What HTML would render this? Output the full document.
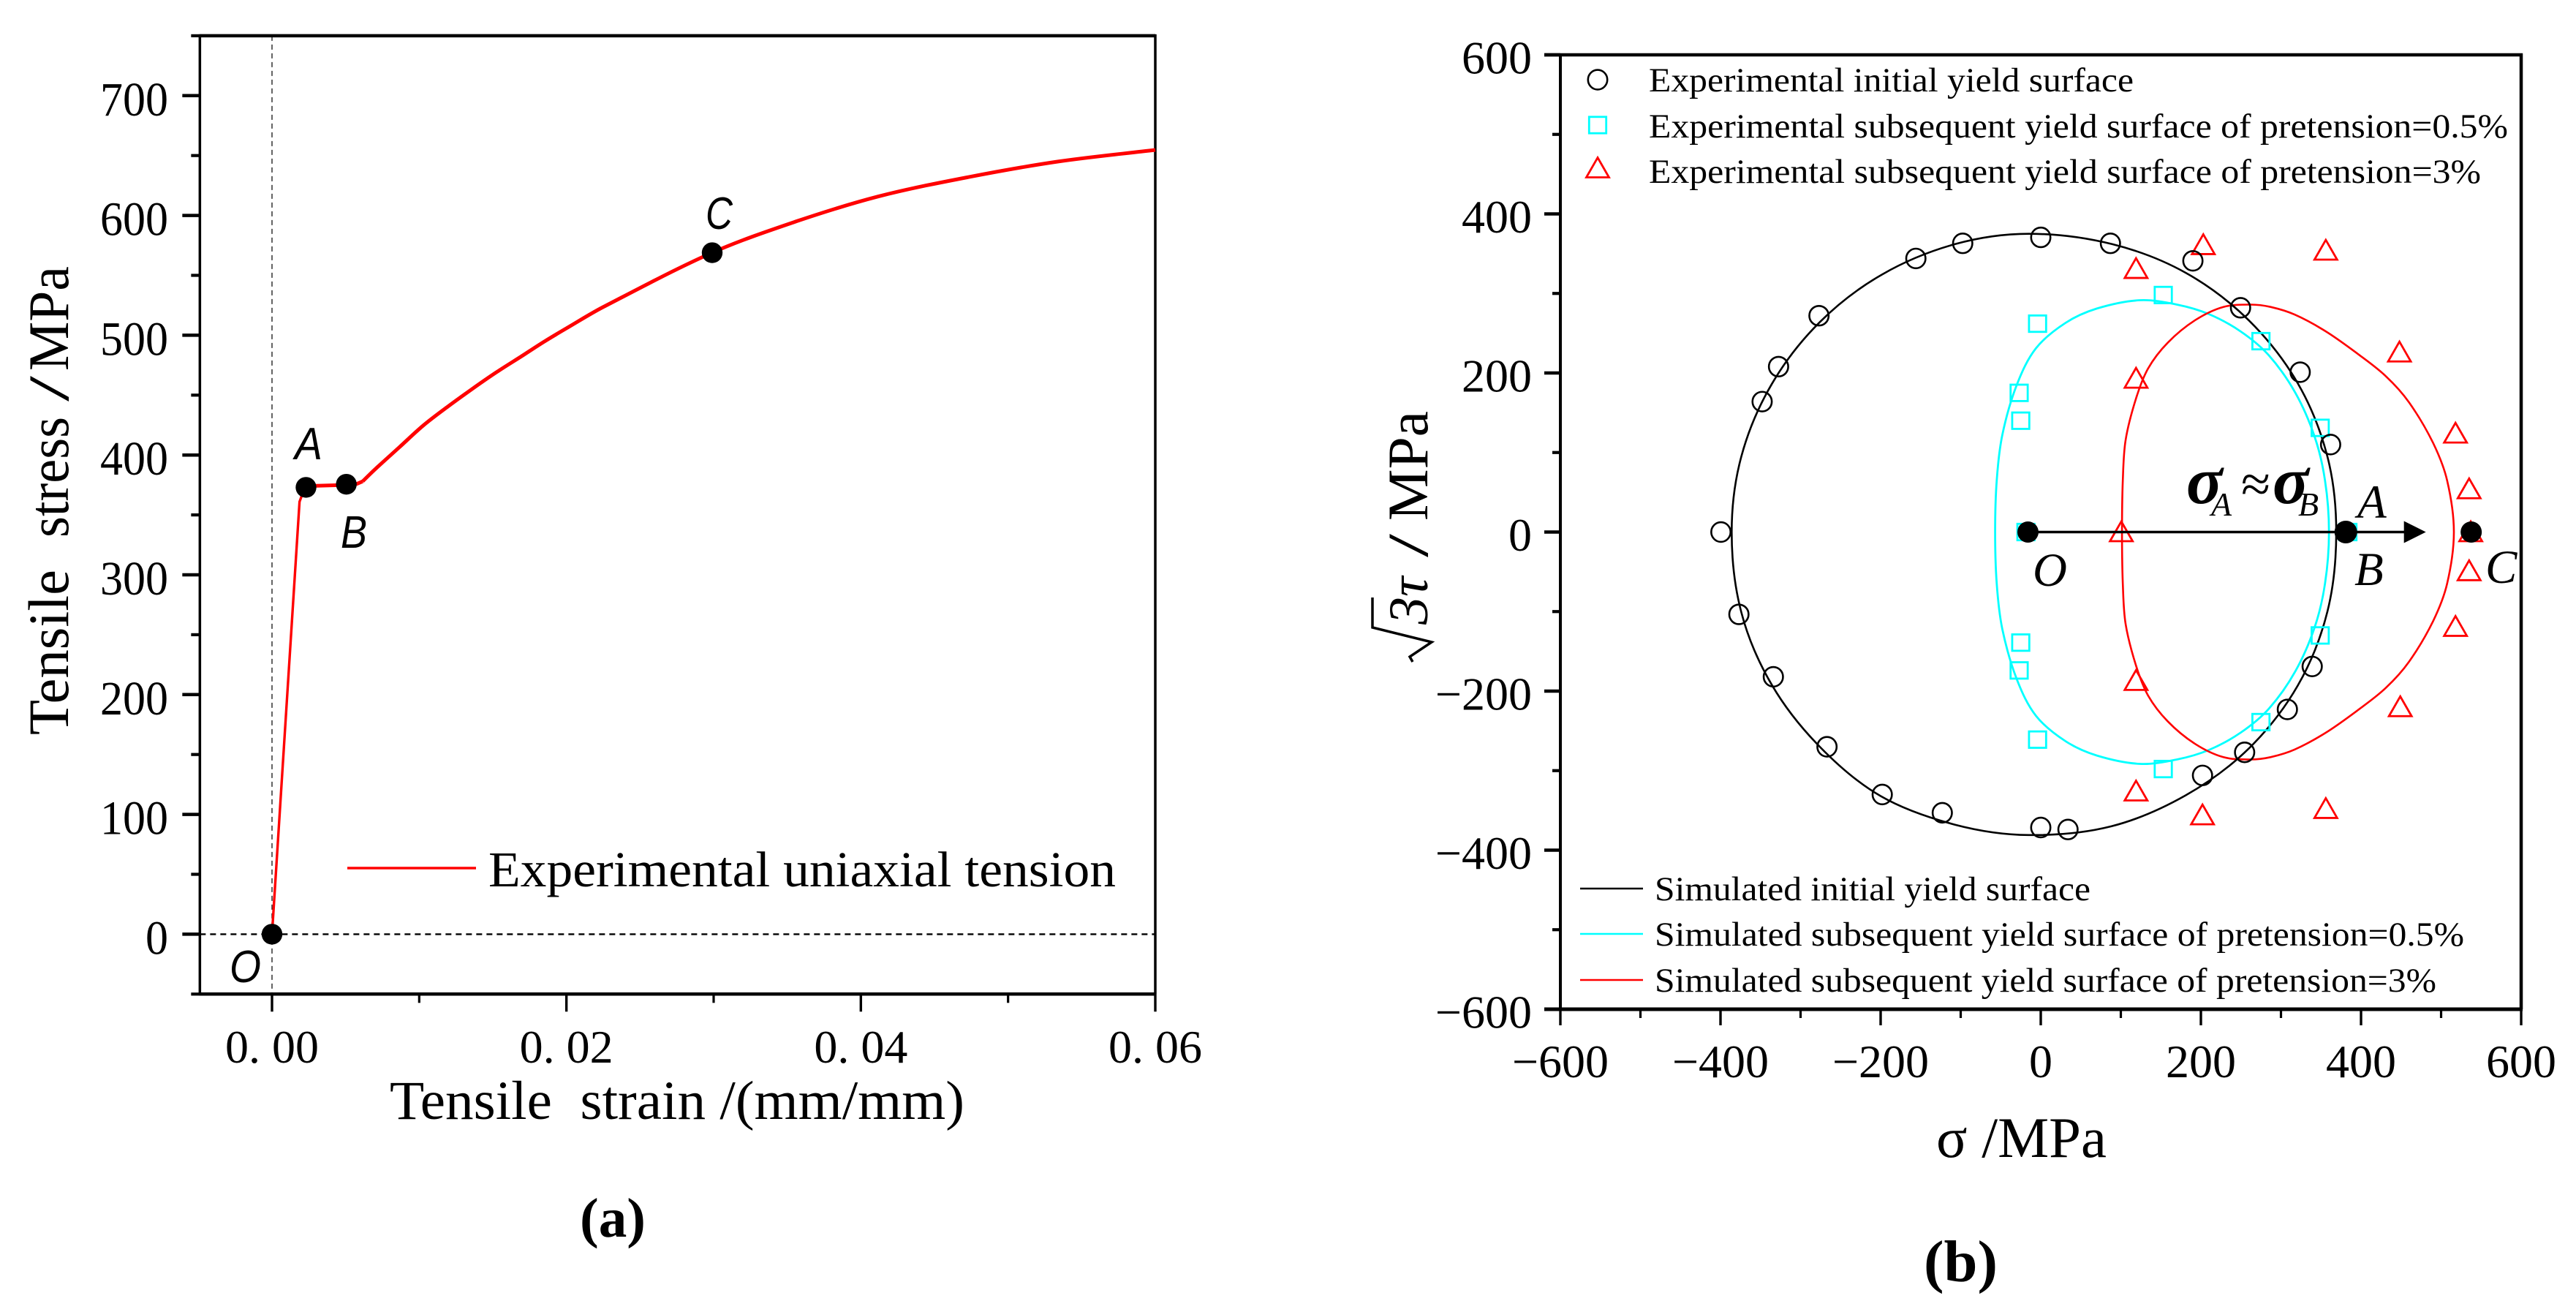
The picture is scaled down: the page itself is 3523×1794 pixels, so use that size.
<!DOCTYPE html>
<html lang="en">
<head>
<meta charset="utf-8">
<title>Tensile curve and yield surfaces</title>
<style>
html,body{margin:0;padding:0;background:#fff;width:3523px;height:1794px;overflow:hidden}
svg{display:block}
text{font-family:"Liberation Serif",serif;fill:#000}
.sans{font-family:"Liberation Sans",sans-serif;font-style:italic}
.it{font-style:italic}
</style>
</head>
<body>
<svg id="fig" xmlns="http://www.w3.org/2000/svg" width="3523" height="1794" viewBox="0 0 3523 1794">
  <rect width="3523" height="1794" fill="#fff"/>
  <g id="panelA"></g>
  <g id="panelB"></g>

  <!-- Panel (a) text -->
  <g>
    <text transform="translate(93,1005) rotate(-90)" font-size="78" textLength="226" lengthAdjust="spacingAndGlyphs">Tensile</text>
    <text transform="translate(93,735) rotate(-90)" font-size="78" textLength="165" lengthAdjust="spacingAndGlyphs">stress</text>
    <text transform="translate(93,549) rotate(-90)" font-size="78" textLength="35" lengthAdjust="spacingAndGlyphs">/</text>
    <text transform="translate(93,507) rotate(-90)" font-size="78" textLength="143" lengthAdjust="spacingAndGlyphs">MPa</text>
  </g>
  <text x="533" y="1530" font-size="75" textLength="786" lengthAdjust="spacingAndGlyphs">Tensile&#160;&#160;strain /(mm/mm)</text>
  <line x1="475" y1="1187" x2="651" y2="1187" stroke="#ff0000" stroke-width="3.4"/>
  <text x="668" y="1212" font-size="69" textLength="858" lengthAdjust="spacingAndGlyphs">Experimental uniaxial tension</text>
  <text class="sans" x="403" y="628" font-size="62" textLength="38" lengthAdjust="spacingAndGlyphs">A</text>
  <text class="sans" x="466" y="749" font-size="62" textLength="36" lengthAdjust="spacingAndGlyphs">B</text>
  <text class="sans" x="965" y="313" font-size="62" textLength="37" lengthAdjust="spacingAndGlyphs">C</text>
  <text class="sans" x="314" y="1343" font-size="62" textLength="43" lengthAdjust="spacingAndGlyphs">O</text>
  <text x="793" y="1691" font-size="76" font-weight="bold" textLength="90" lengthAdjust="spacingAndGlyphs">(a)</text>

  <!-- Panel (b) text -->
  <g>
    <path d="M1877 817 L1877 858 L1958 878 L1928 898 L1932 905" fill="none" stroke="#000" stroke-width="3.5"/>
    <text class="it" transform="translate(1952,854) rotate(-90)" font-size="76">3τ</text>
    <text transform="translate(1952,762) rotate(-90)" font-size="78" textLength="32" lengthAdjust="spacingAndGlyphs">/</text>
    <text transform="translate(1952,712) rotate(-90)" font-size="78" textLength="150" lengthAdjust="spacingAndGlyphs">MPa</text>
  </g>
  <text x="2648" y="1582" font-size="78" textLength="233" lengthAdjust="spacingAndGlyphs">σ /MPa</text>
  <text x="2631" y="1752" font-size="80" font-weight="bold" textLength="101" lengthAdjust="spacingAndGlyphs">(b)</text>

  <text x="2255" y="125" font-size="47" textLength="663" lengthAdjust="spacingAndGlyphs">Experimental initial yield surface</text>
  <text x="2255" y="188" font-size="47" textLength="1175" lengthAdjust="spacingAndGlyphs">Experimental subsequent yield surface of pretension=0.5%</text>
  <text x="2255" y="250" font-size="47" textLength="1138" lengthAdjust="spacingAndGlyphs">Experimental subsequent yield surface of pretension=3%</text>
  <text x="2263" y="1231" font-size="47" textLength="596" lengthAdjust="spacingAndGlyphs">Simulated initial yield surface</text>
  <text x="2263" y="1293" font-size="47" textLength="1107" lengthAdjust="spacingAndGlyphs">Simulated subsequent yield surface of pretension=0.5%</text>
  <text x="2263" y="1356" font-size="47" textLength="1069" lengthAdjust="spacingAndGlyphs">Simulated subsequent yield surface of pretension=3%</text>
  <line x1="2161" y1="1215" x2="2247" y2="1215" stroke="#000" stroke-width="2.5"/>
  <line x1="2161" y1="1277" x2="2247" y2="1277" stroke="#00ffff" stroke-width="2.5"/>
  <line x1="2161" y1="1340" x2="2247" y2="1340" stroke="#ff0000" stroke-width="2.5"/>

  <text class="it" x="2990" y="688" font-size="92" font-weight="bold">σ</text>
  <text class="it" x="3024" y="705" font-size="46">A</text>
  <text x="3065" y="686" font-size="72" textLength="40" lengthAdjust="spacingAndGlyphs">≈</text>
  <text class="it" x="3108" y="688" font-size="92" font-weight="bold">σ</text>
  <text class="it" x="3143" y="705" font-size="46">B</text>
  <text class="it" x="3224" y="708" font-size="65">A</text>
  <text class="it" x="3220" y="800" font-size="65">B</text>
  <text class="it" x="3399" y="797" font-size="65">C</text>
  <text class="it" x="2780" y="801" font-size="65">O</text>
</svg>
<script>
// ---------- Panel (a) data ----------
var tensileStrain = [0, 0.00187, 0.00226, 0.00303, 0.00494, 0.00576, 0.00616, 0.00699, 0.00864, 0.01028, 0.01194, 0.01358, 0.01523, 0.01689, 0.01853, 0.02017, 0.02249, 0.0299, 0.0356, 0.04117, 0.0473, 0.0534, 0.06];
var tensileStress = [0, 361, 374, 374.3, 375, 375.9, 378, 388, 406.4, 424.7, 440.4, 455, 469, 482, 495, 507, 523.5, 568.9, 595, 615.8, 632, 645, 654.7];
var keyPointStrain = [0, 0.00231, 0.00505, 0.0299];
var keyPointStress = [0, 373, 375.6, 568.9];
var aYMajorTicks = [0, 100, 200, 300, 400, 500, 600, 700];
var aYMinorTicks = [-50, 50, 150, 250, 350, 450, 550, 650, 750];
var aXMajorTicks = [0, 0.02, 0.04, 0.06];
var aXMinorTicks = [0.01, 0.03, 0.05];
var aXTickLabels = ['0. 00', '0. 02', '0. 04', '0. 06'];

// ---------- Panel (b) data ----------
var circleSigma = [-399.5, -377, -348, -327.5, -277, -156, -97.5, 0, 87, 190, 249.5, 324, 362, -334, -267, -198, -123, 0, 34, 202, 254.6, 308, 339];
var circleTau = [0, -103.5, 164, 208, 272, 344, 363, 370.5, 363, 341, 282, 201, 110, -182, -270, -330, -353, -371.5, -374, -306, -277, -223, -169];
var squareSigma = [-18.5, -4, -27, -25, 153, 275, 349, 349, -25, -27, -4, 153, 275, 383.6];
var squareTau = [0, 262, 175, 140, 298, 240, 131, -130, -139, -174, -261, -298, -239, 0];
var triangleSigma = [203, 356, 119, 448, 119, 518, 535, 100.6, 537, 535, 518, 119, 449, 119, 202, 356];
var triangleTau = [361, 354, 331, 226, 193, 124, 54, 0, 0, -49, -119, -187, -220, -326, -356, -348];

var simInitialSigma = [-15, 89, 181, 260, 321, 358, 369, 358, 321, 260, 181, 88, -15, -107, -200, -276, -336, -374, -386, -374, -336, -276, -198, -107];
var simInitialTau = [375, 362, 326, 266, 187, 95, 0, -100, -193, -272, -331, -370, -381, -368, -332, -270, -192, -101, 0, 95, 186, 264, 324, 362];
var simPre05Sigma = [124, 170, 210, 250, 285, 318, 342, 355, 360, 355, 342, 318, 285, 250, 210, 170, 124, 70, 31, -6, -30, -48, -55, -57, -55, -48, -30, -6, 31, 70];
var simPre05Tau = [291.5, 286, 274, 252, 222, 175, 120, 65, 0, -65, -120, -175, -222, -252, -274, -286, -291.5, -281, -263, -231, -185, -122, -65, 0, 65, 122, 185, 231, 263, 281];
var simPre3Sigma = [262, 287, 317, 356.5, 396, 431, 460, 490, 507.5, 516, 507.5, 490, 460, 431, 396, 356.5, 317, 287, 262, 228, 193, 158.5, 134, 119, 106, 102.5, 101.5, 102.5, 106, 119, 134, 158.5, 193, 228];
var simPre3Tau = [286, 283, 273.5, 252, 224, 196, 163, 112, 65, 0, -65, -112, -163, -196, -224, -252, -273.5, -283, -286, -283, -266.5, -238, -205.5, -168, -116, -65, 0, 65, 116, 168, 205.5, 238, 266.5, 283];

var stateDotSigma = [-16, 381, 537.6];
var stateDotTau = [0, 0, 0];
var arrowEndSigma = 481;
var bMajorTicks = [-600, -400, -200, 0, 200, 400, 600];
var bMinorTicks = [-500, -300, -100, 100, 300, 500];

// ---------- Axis functions ----------
function ax(v){ return 372 + (v / 0.06) * 1208; }
function ay(v){ return 1277.4 - v * 1.638; }
function bx(v){ return 2791 + v * 1.095; }
function by(v){ return 727.5 - v * 1.0875; }

var NS = 'http://www.w3.org/2000/svg';
function make(parent, tag, attrs){
  var el = document.createElementNS(NS, tag);
  for (var k in attrs) { el.setAttribute(k, attrs[k]); }
  parent.appendChild(el);
  return el;
}
function seg(parent, x1, y1, x2, y2, w, color){
  return make(parent, 'line', {x1:x1, y1:y1, x2:x2, y2:y2, stroke:color || '#000', 'stroke-width':w});
}
function dist(a, b){ return Math.sqrt((a[0] - b[0]) * (a[0] - b[0]) + (a[1] - b[1]) * (a[1] - b[1])) || 1; }
// Smooth spline whose tangents are scaled by local chord length (no overshoot on uneven spacing).
function smooth(pts, closed){
  var n = pts.length, d = 'M' + pts[0][0].toFixed(1) + ' ' + pts[0][1].toFixed(1);
  var last = closed ? n : n - 1;
  for (var i = 0; i < last; i++) {
    var p0 = closed ? pts[(i - 1 + n) % n] : pts[Math.max(i - 1, 0)];
    var p1 = pts[i % n];
    var p2 = closed ? pts[(i + 1) % n] : pts[Math.min(i + 1, n - 1)];
    var p3 = closed ? pts[(i + 2) % n] : pts[Math.min(i + 2, n - 1)];
    var c = dist(p1, p2) / 3, t1 = dist(p0, p2), t2 = dist(p1, p3);
    d += ' C' + (p1[0] + (p2[0] - p0[0]) / t1 * c).toFixed(1) + ' ' + (p1[1] + (p2[1] - p0[1]) / t1 * c).toFixed(1)
      + ' ' + (p2[0] - (p3[0] - p1[0]) / t2 * c).toFixed(1) + ' ' + (p2[1] - (p3[1] - p1[1]) / t2 * c).toFixed(1)
      + ' ' + p2[0].toFixed(1) + ' ' + p2[1].toFixed(1);
  }
  return d + (closed ? ' Z' : '');
}
function circleMark(parent, x, y){
  return make(parent, 'ellipse', {cx:x, cy:y, rx:13.2, ry:13.4, fill:'none', stroke:'#000', 'stroke-width':2.6});
}
function squareMark(parent, x, y){
  return make(parent, 'rect', {x:x - 11.7, y:y - 11.2, width:23.4, height:22.4, fill:'none', stroke:'#00ffff', 'stroke-width':2.8});
}
function triangleMark(parent, x, y){
  var pts = x + ',' + (y - 14.5) + ' ' + (x + 15.5) + ',' + (y + 12.5) + ' ' + (x - 15.5) + ',' + (y + 12.5);
  return make(parent, 'polygon', {points:pts, fill:'none', stroke:'#ff0000', 'stroke-width':2.8});
}

// ---------- Panel (a) ----------
(function(){
  var g = document.getElementById('panelA');
  var left = ax(-0.0049), right = ax(0.06), top = ay(750), bottom = ay(-50);
  var el, i;

  el = seg(g, ax(0), top, ax(0), bottom, 1.4, '#222');
  el.setAttribute('stroke-dasharray', '7 5');
  
  
  el = seg(g, left, ay(0), right, ay(0), 2.4, '#000');
  el.setAttribute('stroke-dasharray', '8 6');
  
  

  // frame
  el = seg(g, left, top, right, top, 4.5);
  
  
  el = seg(g, right, top - 2, right, bottom, 3.5);
  
  
  el = seg(g, left, top - 2, left, bottom + 2, 3.5);
  
  
  el = seg(g, left, bottom, right + 1.5, bottom, 4.5);
  
  

  // y ticks
  for (i = 0; i < aYMajorTicks.length; i++) {
    el = seg(g, left - 24, ay(aYMajorTicks[i]), left, ay(aYMajorTicks[i]), 4.5);
    
    
    var label = String(aYMajorTicks[i]);
    el = make(g, 'text', {x:230, y:ay(aYMajorTicks[i]) + 27, 'text-anchor':'end', 'font-size':66, textLength:label.length * 31, lengthAdjust:'spacingAndGlyphs'});
    el.textContent = label;
    
    
  }
  for (i = 0; i < aYMinorTicks.length; i++) {
    el = seg(g, left - 12, ay(aYMinorTicks[i]), left, ay(aYMinorTicks[i]), 4.2);
    
    
  }
  // x ticks
  for (i = 0; i < aXMajorTicks.length; i++) {
    el = seg(g, ax(aXMajorTicks[i]), bottom, ax(aXMajorTicks[i]), bottom + 24, 3.4);
    
    
    el = make(g, 'text', {x:ax(aXMajorTicks[i]), y:1453, 'text-anchor':'middle', 'font-size':64});
    el.textContent = aXTickLabels[i].replace(' ', '\u00a0');
    
    
  }
  for (i = 0; i < aXMinorTicks.length; i++) {
    el = seg(g, ax(aXMinorTicks[i]), bottom, ax(aXMinorTicks[i]), bottom + 12, 3.2);
    
    
  }

  // curve: thin elastic segment, yield plateau, then smooth hardening segment
  var pts = [];
  for (i = 0; i < tensileStrain.length; i++) { pts.push([ax(tensileStrain[i]), ay(tensileStress[i])]); }
  function joined(list){ return list.map(function(p){ return p[0] + ',' + p[1]; }).join(' '); }
  el = make(g, 'polyline', {points:joined(pts.slice(0, 3)), fill:'none', stroke:'#ff0000', 'stroke-width':3.4});
  
  
  el = make(g, 'polyline', {points:joined(pts.slice(2, 7)), fill:'none', stroke:'#ff0000', 'stroke-width':5});
  
  
  el = make(g, 'path', {d:smooth(pts.slice(6), false), fill:'none', stroke:'#ff0000', 'stroke-width':5});
  
  

  for (i = 0; i < keyPointStrain.length; i++) {
    el = make(g, 'circle', {cx:ax(keyPointStrain[i]), cy:ay(keyPointStress[i]), r:14.2, fill:'#000'});
    
    
  }
})();

// ---------- Panel (b) ----------
(function(){
  var g = document.getElementById('panelB');
  var left = bx(-600), right = bx(600), top = by(600), bottom = by(-600);
  var el, i;

  function curve(sig, tau, color, w, name){
    var pts = [];
    for (var j = 0; j < sig.length; j++) { pts.push([bx(sig[j]), by(tau[j])]); }
    var c = make(g, 'path', {d:smooth(pts, true), fill:'none', stroke:color, 'stroke-width':w});
    
    
  }

  // frame
  el = seg(g, left - 22, top, right + 2, top, 4.5);
  
  
  el = seg(g, right, top - 2, right, bottom, 4.5);
  
  
  el = seg(g, left, top - 2, left, bottom + 2, 4);
  
  
  el = seg(g, left - 22, bottom, right + 2, bottom, 5);
  
  

  // ticks
  for (i = 0; i < bMajorTicks.length; i++) {
    var v = bMajorTicks[i];
    var txt = v < 0 ? '\u2212' + Math.abs(v) : String(v);
    el = seg(g, left - 22, by(v), left, by(v), 4.5);
    
    
    el = seg(g, bx(v), bottom, bx(v), bottom + 22, 3.4);
    
    
    el = make(g, 'text', {x:2095, y:by(v) + 25.5, 'text-anchor':'end', 'font-size':64});
    el.textContent = txt;
    
    
    el = make(g, 'text', {x:bx(v), y:1473, 'text-anchor':'middle', 'font-size':64});
    el.textContent = txt;
    
    
  }
  for (i = 0; i < bMinorTicks.length; i++) {
    el = seg(g, left - 11, by(bMinorTicks[i]), left, by(bMinorTicks[i]), 4.2);
    
    
    el = seg(g, bx(bMinorTicks[i]), bottom, bx(bMinorTicks[i]), bottom + 12, 3.2);
    
    
  }

  // simulated curves
  curve(simPre05Sigma, simPre05Tau, '#00ffff', 2.8, 'b-sim-curve-pretension-0-5');
  curve(simPre3Sigma, simPre3Tau, '#ff0000', 2.6, 'b-sim-curve-pretension-3');
  curve(simInitialSigma, simInitialTau, '#000000', 2.6, 'b-sim-curve-initial');

  // experimental markers
  for (i = 0; i < squareSigma.length; i++) {
    el = squareMark(g, bx(squareSigma[i]), by(squareTau[i]));
    
    
  }
  for (i = 0; i < triangleSigma.length; i++) {
    el = triangleMark(g, bx(triangleSigma[i]), by(triangleTau[i]));
    
    
  }
  for (i = 0; i < circleSigma.length; i++) {
    el = circleMark(g, bx(circleSigma[i]), by(circleTau[i]));
    
    
  }

  // legend markers
  el = circleMark(g, 2185, 109);
  
  
  el = squareMark(g, 2185, 171);
  
  
  el = triangleMark(g, 2185, 230);
  
  

  // loading arrow
  var ay0 = by(0), tip = bx(arrowEndSigma);
  el = seg(g, bx(stateDotSigma[0]), ay0, tip - 28, ay0, 3.4);
  
  
  el = make(g, 'polygon', {points:tip + ',' + ay0 + ' ' + (tip - 30) + ',' + (ay0 - 15) + ' ' + (tip - 30) + ',' + (ay0 + 15), fill:'#000'});
  
  

  // state dots
  for (i = 0; i < stateDotSigma.length; i++) {
    el = make(g, 'circle', {cx:bx(stateDotSigma[i]), cy:by(stateDotTau[i]), r:i === 1 ? 15.5 : 14.5, fill:'#000'});
    
    
  }
})();
</script>
</body>
</html>
